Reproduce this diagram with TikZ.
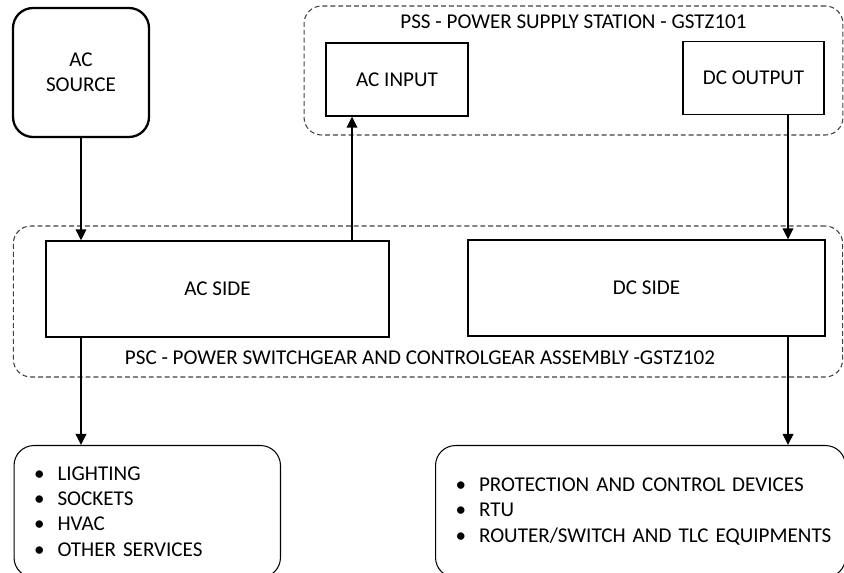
\documentclass[tikz,border=0pt]{standalone}
\usepackage{fontspec}
\setmainfont{Carlito}
\usetikzlibrary{arrows.meta}
\newcommand{\itm}[1]{\mbox{\makebox[0.47cm][l]{\textbullet}#1}}

\begin{document}
\begin{tikzpicture}[x=0.02cm,y=-0.02cm,
  font=\fontsize{12}{14.4}\selectfont,
  blk/.style={draw,line width=0.75pt,inner sep=0pt,align=center},
  srcbox/.style={draw,line width=1.3pt,rounded corners=0.4cm,inner sep=0pt,align=center},
  grp/.style={draw=black!75,line width=0.6pt,dash pattern=on 2.8pt off 1.7pt,rounded corners=0.35cm,inner sep=0pt},
  lst/.style={draw,line width=0.6pt,rounded corners=0.4cm,align=left,inner xsep=0.4cm,inner ysep=0pt,anchor=north west,minimum height=2.64cm},
  arr/.style={line width=1.1pt,-{Triangle[length=6.3pt,width=6pt]}}]
\useasboundingbox (0,0) rectangle (844,573);

\node (pss) [grp,minimum width=10.78cm,minimum height=2.58cm] at (573.5,70.5) {};
\node (psstitle) at ([yshift=-0.32cm]pss.north) {PSS - POWER SUPPLY STATION - GSTZ101};
\node (psc) [grp,minimum width=16.59cm,minimum height=3.02cm] at (428,301.5) {};
\node (psctitle) at ([xshift=-0.16cm,yshift=0.4cm]psc.south) {PSC - POWER SWITCHGEAR AND CONTROLGEAR ASSEMBLY -GSTZ102};

\node (src) [srcbox,minimum width=2.72cm,minimum height=2.58cm] at (81,72.5) {AC\\SOURCE};
\node (acin) [blk,minimum width=2.84cm,minimum height=1.46cm] at (397,79.5) {AC INPUT};
\node (dcout) [blk,minimum width=2.82cm,minimum height=1.45cm] at (753.5,78) {DC OUTPUT};
\node (acside) [blk,minimum width=6.86cm,minimum height=1.92cm] at (217.5,289) {AC SIDE};
\node (dcside) [blk,minimum width=7.14cm,minimum height=1.92cm] at (646.5,288) {DC SIDE};

\node (loads) [lst,text width=4.53cm] at (13.5,445) {\itm{LIGHTING}\\\itm{SOCKETS}\\\itm{HVAC}\\\itm{OTHER SERVICES}};
\node (devices) [lst,text width=7.4cm] at (435,445) {\itm{PROTECTION AND CONTROL DEVICES}\\\itm{RTU}\\\itm{ROUTER/SWITCH AND TLC EQUIPMENTS}};

\coordinate (upx) at (352,0);
\coordinate (dnx) at (788,0);
\draw [arr] (src.south) -- (src.south |- acside.north);
\draw [arr] (acside.north -| upx) -- (acin.south -| upx);
\draw [arr] (dcout.south -| dnx) -- (dcside.north -| dnx);
\draw [arr] (acside.south -| src.south) -- (loads.north -| src.south);
\draw [arr] (dcside.south -| dnx) -- (devices.north -| dnx);
\end{tikzpicture}
\end{document}
